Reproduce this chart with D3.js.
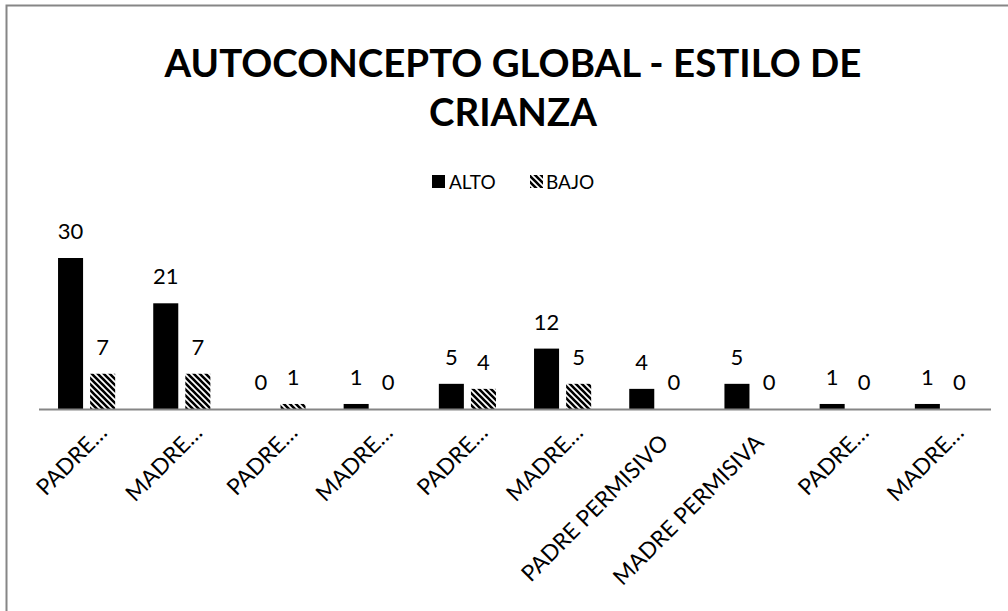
<!DOCTYPE html>
<html><head><meta charset="utf-8">
<script src="https://cdn.jsdelivr.net/npm/d3@7"></script>
<style>body{margin:0;background:#fff;} svg{display:block;}</style>
</head><body>
<svg id="c" width="1008" height="611"></svg>
<script>
const categories = ["PADRE…","MADRE…","PADRE…","MADRE…","PADRE…","MADRE…","PADRE PERMISIVO","MADRE PERMISIVA","PADRE…","MADRE…"];
const seriesNames = ["ALTO","BAJO"];
const altoValues = [30,21,0,1,5,12,4,5,1,1];
const bajoValues = [7,7,1,0,4,5,0,0,0,0];
const titleLines = ["AUTOCONCEPTO GLOBAL - ESTILO DE","CRIANZA"];

const svg = d3.select("#c");
const FONT = "Lato, 'Open Sans', sans-serif";

const defs = svg.append("defs");
const pat = defs.append("pattern").attr("id","diag").attr("patternUnits","userSpaceOnUse")
  .attr("width",6).attr("height",6);
pat.append("rect").attr("width",6).attr("height",6).attr("fill","#fff");
pat.append("path").attr("d","M-1,-1 L7,7 M-4,2 L2,8 M2,-4 L8,2").attr("stroke","#000").attr("stroke-width",2.6);

svg.append("rect").attr("x",6.5).attr("y",5.5).attr("width",1010).attr("height",620)
  .attr("fill","#fff").attr("stroke","#868686").attr("stroke-width",2);

// title
const t1 = svg.append("text").attr("x",513).attr("y",77).attr("text-anchor","middle")
  .attr("font-family",FONT).attr("font-weight","bold").attr("font-size",40).text(titleLines[0]);
const w = t1.node().getComputedTextLength();
const fs = 40*697/w;
t1.attr("font-size",fs);
svg.append("text").attr("x",513).attr("y",126).attr("text-anchor","middle")
  .attr("font-family",FONT).attr("font-weight","bold").attr("font-size",fs).text(titleLines[1]);

const data = categories.map((c,i)=>({i, cat:c, vals:[altoValues[i], bajoValues[i]]}));

const x0 = d3.scaleBand().domain(d3.range(categories.length)).range([39,991]).paddingInner(0.4).paddingOuter(0.2);
const x1 = d3.scaleBand().domain(seriesNames).range([0,x0.bandwidth()]).paddingInner(0.22);
const y = d3.scaleLinear().domain([0,30]).range([409,258]);
const fills = {"ALTO":"#000","BAJO":"url(#diag)"};

const g = svg.append("g");
data.forEach(d=>{
  seriesNames.forEach((s,k)=>{
    const v = d.vals[k];
    const bx = x0(d.i)+x1(s);
    g.append("rect").attr("x",bx).attr("y",y(v)).attr("width",x1.bandwidth())
      .attr("height",y(0)-y(v)).attr("fill",fills[s]);
    g.append("text").attr("x",bx+x1.bandwidth()/2).attr("y",y(v)-19).attr("text-anchor","middle")
      .attr("font-family",FONT).attr("font-size",22).attr("fill","#000").text(v);
  });
});

// axis
svg.append("line").attr("x1",39).attr("x2",991).attr("y1",409.5).attr("y2",409.5)
  .attr("stroke","#868686").attr("stroke-width",2);

// x labels
data.forEach(d=>{
  const cx = x0(d.i)+x0.bandwidth()/2;
  const truncated = d.cat.endsWith("…");
  svg.append("text").attr("transform",`translate(${cx+12},444) rotate(-45)`)
    .attr("dx", truncated ? 14 : 0)
    .attr("text-anchor","end").attr("font-family",FONT).attr("font-size",22.5).attr("fill","#000")
    .text(d.cat);
});

// legend
const lg = svg.append("g");
lg.append("rect").attr("x",432).attr("y",175).attr("width",13).attr("height",13).attr("fill","#000");
lg.append("text").attr("x",449).attr("y",189).attr("font-family",FONT).attr("font-size",19).text(seriesNames[0]);
lg.append("rect").attr("x",530).attr("y",175).attr("width",13).attr("height",13).attr("fill","url(#diag)");
lg.append("text").attr("x",546).attr("y",189).attr("font-family",FONT).attr("font-size",19).text(seriesNames[1]);
</script>
</body></html>
